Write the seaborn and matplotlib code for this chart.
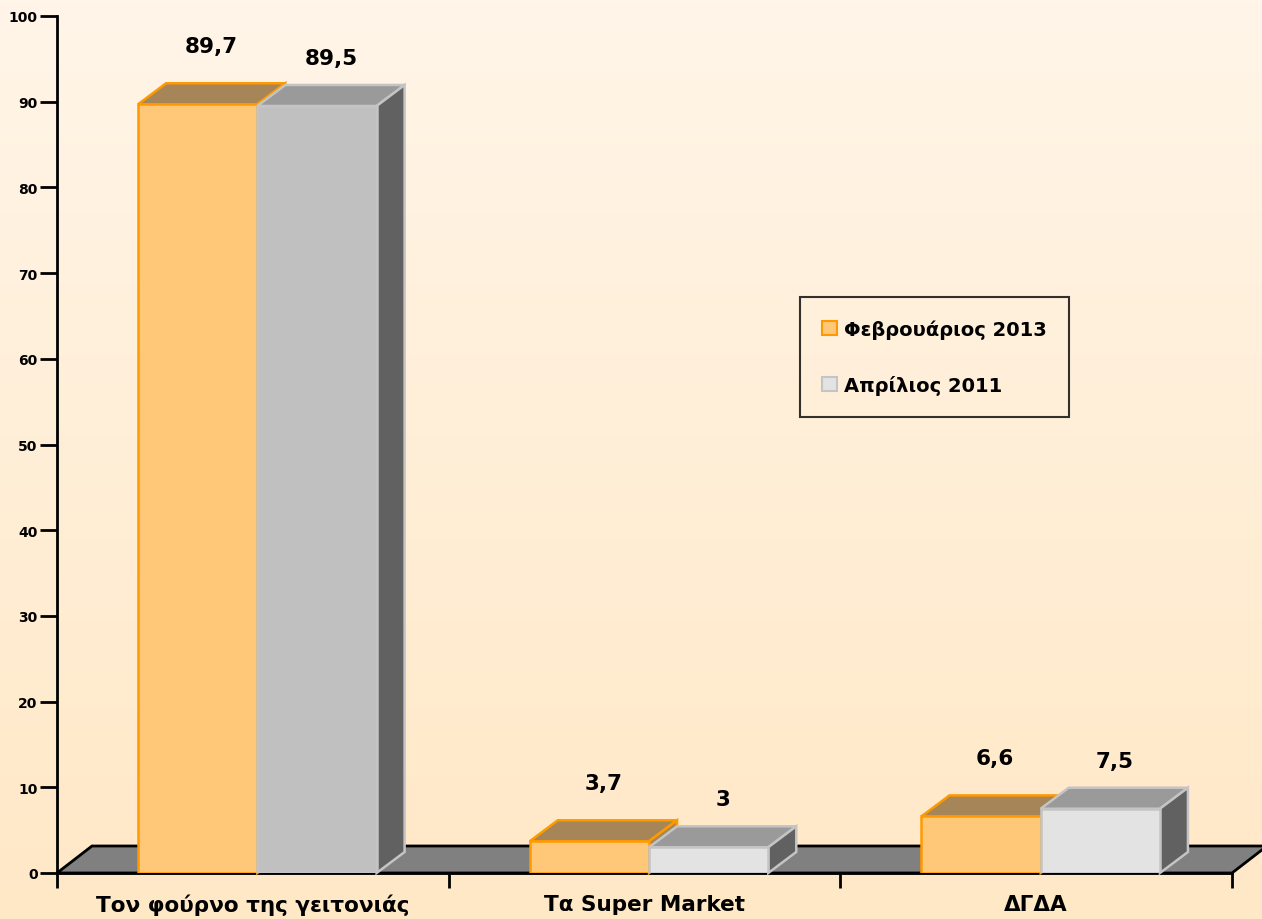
import numpy as np
import pandas as pd
import matplotlib
matplotlib.use("Agg")
import matplotlib.pyplot as plt
from matplotlib.patches import Polygon, Patch
import seaborn as sns

# ---- data ----
categories = ["Τον φούρνο της γειτονιάς", "Τα Super Market", "ΔΓΔΑ"]
series_names = ["Φεβρουάριος 2013", "Απρίλιος 2011"]
feb_2013 = [89.7, 3.7, 6.6]
apr_2011 = [89.5, 3.0, 7.5]
y_ticks = list(range(0, 101, 10))

df = pd.DataFrame({
    "category": categories * 2,
    "value": feb_2013 + apr_2011,
    "series": [series_names[0]] * 3 + [series_names[1]] * 3,
})

# ---- style ----
sns.set_style("ticks")
plt.rcParams["font.family"] = ["DejaVu Sans"]
plt.rcParams["font.weight"] = "bold"
plt.rcParams["text.color"] = "black"
plt.rcParams["xtick.color"] = "black"
plt.rcParams["ytick.color"] = "black"
plt.rcParams["xtick.labelcolor"] = "black"
plt.rcParams["ytick.labelcolor"] = "black"

ORANGE_FACE = "#FFC878"
ORANGE_TOP = "#A68658"
ORANGE_EDGE = "#FF9900"
GRAY_FACE = "#E3E3E3"
GRAY_FACE_DARK = "#C0C0C0"
GRAY_TOP = "#9A9A9A"
GRAY_SIDE = "#616161"
GRAY_EDGE = "#C4C4C4"
FLOOR = "#808080"

W, H = 1262, 920
fig = plt.figure(figsize=(W / 100, H / 100), dpi=100)

# vertical background gradient
bg = fig.add_axes([0, 0, 1, 1], zorder=-10)
top_c = np.array([255, 245, 232]) / 255
bot_c = np.array([255, 232, 198]) / 255
t = np.linspace(0, 1, 256)[:, None]
grad = (top_c[None, :] * (1 - t) + bot_c[None, :] * t)[:, None, :]
bg.imshow(grad, aspect="auto", extent=[0, 1, 0, 1])
bg.set_axis_off()

ax = fig.add_axes([57 / W, 46 / H, (1232 - 57) / W, (874 - 17) / H])
ax.set_facecolor("none")

sns.barplot(data=df, x="category", y="value", hue="series",
            order=categories, hue_order=series_names,
            palette=[ORANGE_FACE, GRAY_FACE], saturation=1,
            width=0.609, legend=False, ax=ax)

ax.set_xlim(-0.5, 2.5)
ax.set_ylim(0, 100)

# depth of the pseudo-3D boxes, in data units
px_x = 3.0 / (1232 - 57)
px_y = 100.0 / (874 - 17)
bar_dx, bar_dy = 28 * px_x, 21 * px_y
floor_dx, floor_dy = 35 * px_x, 27 * px_y
shift = 4.5 * px_x

# floor plate
floor = Polygon([(-0.5, 0), (2.5, 0), (2.5 + floor_dx, floor_dy), (-0.5 + floor_dx, floor_dy)],
                closed=True, facecolor=FLOOR, edgecolor="black", linewidth=2,
                zorder=1, clip_on=False)
ax.add_patch(floor)

label_offset = [6.8, 5.6]
for s_idx, container in enumerate(ax.containers):
    z = 3 + s_idx
    for c_idx, bar in enumerate(container.patches):
        bar.set_x(bar.get_x() + shift)
        x0, w, h = bar.get_x(), bar.get_width(), bar.get_height()
        if s_idx == 0:
            face, top, side, edge = ORANGE_FACE, ORANGE_TOP, ORANGE_TOP, ORANGE_EDGE
        else:
            face = GRAY_FACE_DARK if c_idx == 0 else GRAY_FACE
            top, side, edge = GRAY_TOP, GRAY_SIDE, GRAY_EDGE
        bar.set_facecolor(face)
        bar.set_edgecolor(edge)
        bar.set_linewidth(1.8)
        bar.set_zorder(z + 0.2)
        top_poly = Polygon([(x0, h), (x0 + w, h), (x0 + w + bar_dx, h + bar_dy), (x0 + bar_dx, h + bar_dy)],
                           closed=True, facecolor=top, edgecolor=edge, linewidth=1.8,
                           zorder=z, clip_on=False)
        side_poly = Polygon([(x0 + w, 0), (x0 + w, h), (x0 + w + bar_dx, h + bar_dy), (x0 + w + bar_dx, bar_dy)],
                            closed=True, facecolor=side, edgecolor=edge, linewidth=1.8,
                            zorder=z + 0.1, clip_on=False)
        ax.add_patch(top_poly)
        ax.add_patch(side_poly)
        txt = f"{h:g}".replace(".", ",")
        ax.text(x0 + w / 2 + bar_dx / 2, h + label_offset[s_idx], txt,
                ha="center", va="center", fontsize=15.5, fontweight="bold",
                color="black", zorder=10)

# axes styling
for sp in ["top", "right"]:
    ax.spines[sp].set_visible(False)
ax.spines["left"].set_linewidth(2)
ax.spines["bottom"].set_linewidth(2)
ax.spines["left"].set_color("black")
ax.spines["bottom"].set_color("black")
ax.spines["left"].set_zorder(12)

ax.set_yticks(y_ticks)
ax.set_yticklabels([str(v) for v in y_ticks], fontsize=10, fontweight="bold", color="black")
ax.tick_params(axis="y", direction="out", length=12, width=2, pad=2, colors="black")

ax.set_xticks([0, 1, 2])
ax.set_xticklabels(categories, fontsize=15.5, fontweight="bold", color="black")
ax.set_xticks([-0.5, 0.5, 1.5, 2.5], minor=True)
ax.tick_params(axis="x", which="major", length=0, pad=15)
ax.tick_params(axis="x", which="minor", direction="out", length=11, width=2, colors="black")
ax.set_xlabel("")
ax.set_ylabel("")

# legend
handles = [Patch(facecolor=ORANGE_FACE, edgecolor=ORANGE_EDGE, linewidth=1.5, label=series_names[0]),
           Patch(facecolor=GRAY_FACE, edgecolor=GRAY_EDGE, linewidth=1.5, label=series_names[1])]
leg = fig.legend(handles=handles, loc="upper left", bbox_to_anchor=(800 / W, 1 - 298 / H),
                 prop={"size": 14, "weight": "bold"}, frameon=True, fancybox=False,
                 handlelength=0.75, handleheight=0.75, handletextpad=0.35,
                 labelspacing=1.85, borderpad=1.15, borderaxespad=0)
for txt in leg.get_texts():
    txt.set_color("black")
leg.get_frame().set_edgecolor("black")
leg.get_frame().set_linewidth(1.5)
leg.get_frame().set_facecolor("none")

fig.savefig("out.png", dpi=100)
